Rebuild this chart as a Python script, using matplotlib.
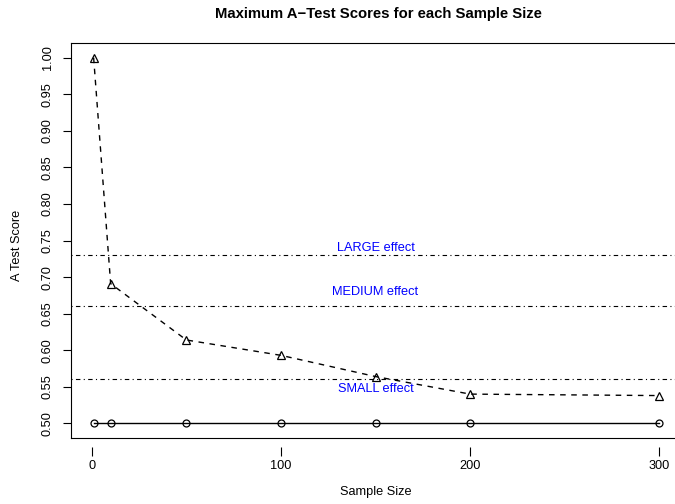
import matplotlib
matplotlib.use("Agg")
import matplotlib.pyplot as plt

# Data
sample_sizes = [1, 10, 50, 100, 150, 200, 300]
max_scores = [1.0, 0.691, 0.614, 0.593, 0.564, 0.540, 0.538]
baseline = [0.5, 0.5, 0.5, 0.5, 0.5, 0.5, 0.5]

effect_names = ["LARGE effect", "MEDIUM effect", "SMALL effect"]
effect_levels = [0.73, 0.66, 0.56]
label_y = [0.74, 0.68, 0.547]

x_ticks = [0, 100, 200, 300]
y_ticks = [0.50, 0.55, 0.60, 0.65, 0.70, 0.75, 0.80, 0.85, 0.90, 0.95, 1.00]

plt.rcParams['font.family'] = ['Liberation Sans', 'DejaVu Sans']

fig = plt.figure(figsize=(6.75, 5.04), dpi=100)
ax = fig.add_axes([71 / 675, 66 / 504, 611 / 675, 395 / 504])

# circles at 0.5
ax.plot(sample_sizes, baseline, color='black', lw=1.0, marker='o', ms=5,
        mfc='none', mec='black', mew=0.9)
# triangles with dashed line
ax.plot(sample_sizes, max_scores, color='black', lw=1.0, ls=(0, (4, 4)),
        marker='^', ms=6, mfc='none', mec='black', mew=0.9)

# effect size thresholds
for lvl, name, ly in zip(effect_levels, effect_names, label_y):
    ax.axhline(lvl, color='black', lw=0.8, ls=(0, (1, 3, 4, 3)))
    ax.text(150, ly, name, color='blue', fontsize=9.2, ha='center', va='center')

ax.set_xlim(-10.96, 311.96)
ax.set_ylim(0.48, 1.02)

# x axis drawn a little below the box, like R
ax.set_xticks([])
sec = ax.secondary_xaxis(-9 / 395)
sec.spines['bottom'].set_visible(False)
sec.set_xticks(x_ticks)
sec.set_xticklabels([str(t) for t in x_ticks])
sec.tick_params(direction='out', length=6.5, width=0.8, labelsize=9.2, pad=3)

ax.set_yticks(y_ticks)
ax.set_yticklabels([f"{t:.2f}" for t in y_ticks], rotation=90, va='center')
ax.tick_params(axis='y', direction='out', length=5.5, width=0.8, labelsize=9.2, pad=7)

for s in ax.spines.values():
    s.set_linewidth(0.8)

fig.text(376 / 675, 1 - 492 / 504, "Sample Size", fontsize=9.2, ha='center', va='center')
fig.text(17 / 675, 1 - 245 / 504, "A Test Score", fontsize=9.2, ha='center', va='center',
         rotation=90)
fig.text(378 / 675, 1 - 14 / 504, "Maximum A\u2212Test Scores for each Sample Size",
         fontsize=10.7, fontweight='bold', ha='center', va='center')

fig.savefig("out.png", dpi=100)
